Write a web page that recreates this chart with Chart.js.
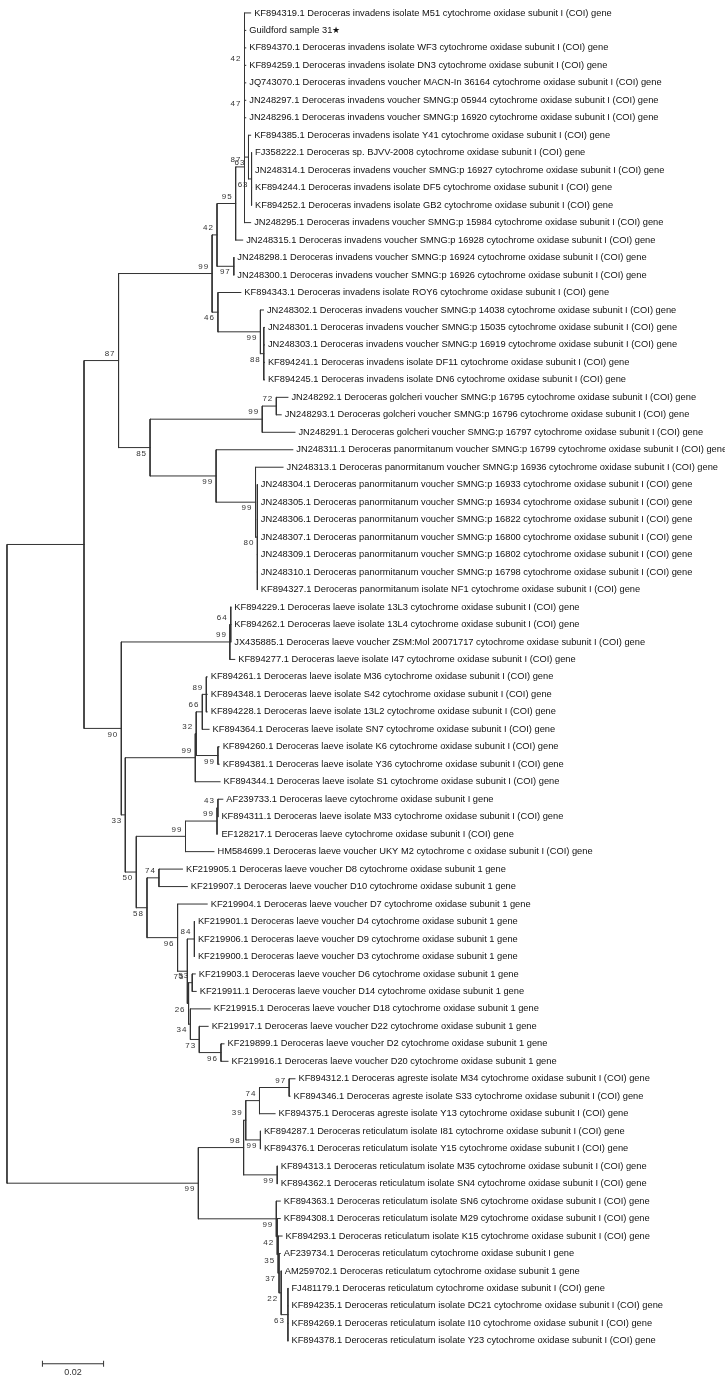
<!DOCTYPE html>
<html>
<head>
<meta charset="utf-8">
<script src="https://cdn.jsdelivr.net/npm/chart.js@4.4.1/dist/chart.umd.min.js"></script>
<style>
    html, body { margin: 0; padding: 0; background: #fff; }
    #wrap { position: relative; width: 725px; height: 1381px; }
</style>
</head>
<body>
<div id="wrap"><canvas id="tree"></canvas></div>
<script>
// ════════════════════════════════════════
// DATA: leaves (top to bottom) and their tip distance from the root
// ════════════════════════════════════════

const leafNames = [
    'KF894319.1 Deroceras invadens isolate M51 cytochrome oxidase subunit I (COI) gene',
    'Guildford sample 31\u2605',
    'KF894370.1 Deroceras invadens isolate WF3 cytochrome oxidase subunit I (COI) gene',
    'KF894259.1 Deroceras invadens isolate DN3 cytochrome oxidase subunit I (COI) gene',
    'JQ743070.1 Deroceras invadens voucher MACN-In 36164 cytochrome oxidase subunit I (COI) gene',
    'JN248297.1 Deroceras invadens voucher SMNG:p 05944 cytochrome oxidase subunit I (COI) gene',
    'JN248296.1 Deroceras invadens voucher SMNG:p 16920 cytochrome oxidase subunit I (COI) gene',
    'KF894385.1 Deroceras invadens isolate Y41 cytochrome oxidase subunit I (COI) gene',
    'FJ358222.1 Deroceras sp. BJVV-2008 cytochrome oxidase subunit I (COI) gene',
    'JN248314.1 Deroceras invadens voucher SMNG:p 16927 cytochrome oxidase subunit I (COI) gene',
    'KF894244.1 Deroceras invadens isolate DF5 cytochrome oxidase subunit I (COI) gene',
    'KF894252.1 Deroceras invadens isolate GB2 cytochrome oxidase subunit I (COI) gene',
    'JN248295.1 Deroceras invadens voucher SMNG:p 15984 cytochrome oxidase subunit I (COI) gene',
    'JN248315.1 Deroceras invadens voucher SMNG:p 16928 cytochrome oxidase subunit I (COI) gene',
    'JN248298.1 Deroceras invadens voucher SMNG:p 16924 cytochrome oxidase subunit I (COI) gene',
    'JN248300.1 Deroceras invadens voucher SMNG:p 16926 cytochrome oxidase subunit I (COI) gene',
    'KF894343.1 Deroceras invadens isolate ROY6 cytochrome oxidase subunit I (COI) gene',
    'JN248302.1 Deroceras invadens voucher SMNG:p 14038 cytochrome oxidase subunit I (COI) gene',
    'JN248301.1 Deroceras invadens voucher SMNG:p 15035 cytochrome oxidase subunit I (COI) gene',
    'JN248303.1 Deroceras invadens voucher SMNG:p 16919 cytochrome oxidase subunit I (COI) gene',
    'KF894241.1 Deroceras invadens isolate DF11 cytochrome oxidase subunit I (COI) gene',
    'KF894245.1 Deroceras invadens isolate DN6 cytochrome oxidase subunit I (COI) gene',
    'JN248292.1 Deroceras golcheri voucher SMNG:p 16795 cytochrome oxidase subunit I (COI) gene',
    'JN248293.1 Deroceras golcheri voucher SMNG:p 16796 cytochrome oxidase subunit I (COI) gene',
    'JN248291.1 Deroceras golcheri voucher SMNG:p 16797 cytochrome oxidase subunit I (COI) gene',
    'JN248311.1 Deroceras panormitanum voucher SMNG:p 16799 cytochrome oxidase subunit I (COI) gene',
    'JN248313.1 Deroceras panormitanum voucher SMNG:p 16936 cytochrome oxidase subunit I (COI) gene',
    'JN248304.1 Deroceras panormitanum voucher SMNG:p 16933 cytochrome oxidase subunit I (COI) gene',
    'JN248305.1 Deroceras panormitanum voucher SMNG:p 16934 cytochrome oxidase subunit I (COI) gene',
    'JN248306.1 Deroceras panormitanum voucher SMNG:p 16822 cytochrome oxidase subunit I (COI) gene',
    'JN248307.1 Deroceras panormitanum voucher SMNG:p 16800 cytochrome oxidase subunit I (COI) gene',
    'JN248309.1 Deroceras panormitanum voucher SMNG:p 16802 cytochrome oxidase subunit I (COI) gene',
    'JN248310.1 Deroceras panormitanum voucher SMNG:p 16798 cytochrome oxidase subunit I (COI) gene',
    'KF894327.1 Deroceras panormitanum isolate NF1 cytochrome oxidase subunit I (COI) gene',
    'KF894229.1 Deroceras laeve isolate 13L3 cytochrome oxidase subunit I (COI) gene',
    'KF894262.1 Deroceras laeve isolate 13L4 cytochrome oxidase subunit I (COI) gene',
    'JX435885.1 Deroceras laeve voucher ZSM:Mol 20071717 cytochrome oxidase subunit I (COI) gene',
    'KF894277.1 Deroceras laeve isolate I47 cytochrome oxidase subunit I (COI) gene',
    'KF894261.1 Deroceras laeve isolate M36 cytochrome oxidase subunit I (COI) gene',
    'KF894348.1 Deroceras laeve isolate S42 cytochrome oxidase subunit I (COI) gene',
    'KF894228.1 Deroceras laeve isolate 13L2 cytochrome oxidase subunit I (COI) gene',
    'KF894364.1 Deroceras laeve isolate SN7 cytochrome oxidase subunit I (COI) gene',
    'KF894260.1 Deroceras laeve isolate K6 cytochrome oxidase subunit I (COI) gene',
    'KF894381.1 Deroceras laeve isolate Y36 cytochrome oxidase subunit I (COI) gene',
    'KF894344.1 Deroceras laeve isolate S1 cytochrome oxidase subunit I (COI) gene',
    'AF239733.1 Deroceras laeve cytochrome oxidase subunit I gene',
    'KF894311.1 Deroceras laeve isolate M33 cytochrome oxidase subunit I (COI) gene',
    'EF128217.1 Deroceras laeve cytochrome oxidase subunit I (COI) gene',
    'HM584699.1 Deroceras laeve voucher UKY M2 cytochrome c oxidase subunit I (COI) gene',
    'KF219905.1 Deroceras laeve voucher D8 cytochrome oxidase subunit 1 gene',
    'KF219907.1 Deroceras laeve voucher D10 cytochrome oxidase subunit 1 gene',
    'KF219904.1 Deroceras laeve voucher D7 cytochrome oxidase subunit 1 gene',
    'KF219901.1 Deroceras laeve voucher D4 cytochrome oxidase subunit 1 gene',
    'KF219906.1 Deroceras laeve voucher D9 cytochrome oxidase subunit 1 gene',
    'KF219900.1 Deroceras laeve voucher D3 cytochrome oxidase subunit 1 gene',
    'KF219903.1 Deroceras laeve voucher D6 cytochrome oxidase subunit 1 gene',
    'KF219911.1 Deroceras laeve voucher D14 cytochrome oxidase subunit 1 gene',
    'KF219915.1 Deroceras laeve voucher D18 cytochrome oxidase subunit 1 gene',
    'KF219917.1 Deroceras laeve voucher D22 cytochrome oxidase subunit 1 gene',
    'KF219899.1 Deroceras laeve voucher D2 cytochrome oxidase subunit 1 gene',
    'KF219916.1 Deroceras laeve voucher D20 cytochrome oxidase subunit 1 gene',
    'KF894312.1 Deroceras agreste isolate M34 cytochrome oxidase subunit I (COI) gene',
    'KF894346.1 Deroceras agreste isolate S33 cytochrome oxidase subunit I (COI) gene',
    'KF894375.1 Deroceras agreste isolate Y13 cytochrome oxidase subunit I (COI) gene',
    'KF894287.1 Deroceras reticulatum isolate I81 cytochrome oxidase subunit I (COI) gene',
    'KF894376.1 Deroceras reticulatum isolate Y15 cytochrome oxidase subunit I (COI) gene',
    'KF894313.1 Deroceras reticulatum isolate M35 cytochrome oxidase subunit I (COI) gene',
    'KF894362.1 Deroceras reticulatum isolate SN4 cytochrome oxidase subunit I (COI) gene',
    'KF894363.1 Deroceras reticulatum isolate SN6 cytochrome oxidase subunit I (COI) gene',
    'KF894308.1 Deroceras reticulatum isolate M29 cytochrome oxidase subunit I (COI) gene',
    'KF894293.1 Deroceras reticulatum isolate K15 cytochrome oxidase subunit I (COI) gene',
    'AF239734.1 Deroceras reticulatum cytochrome oxidase subunit I gene',
    'AM259702.1 Deroceras reticulatum cytochrome oxidase subunit 1 gene',
    'FJ481179.1 Deroceras reticulatum cytochrome oxidase subunit I (COI) gene',
    'KF894235.1 Deroceras reticulatum isolate DC21 cytochrome oxidase subunit I (COI) gene',
    'KF894269.1 Deroceras reticulatum isolate I10 cytochrome oxidase subunit I (COI) gene',
    'KF894378.1 Deroceras reticulatum isolate Y23 cytochrome oxidase subunit I (COI) gene',
];

const leafDepth = [
    0.0797, 0.0781, 0.0781, 0.0781, 0.0781, 0.0781, 0.0781, 0.0797, 0.0800, 0.0800,
    0.0800, 0.0800, 0.0797, 0.0771, 0.0742, 0.0742, 0.0765, 0.0839, 0.0842, 0.0842,
    0.0842, 0.0842, 0.0919, 0.0897, 0.0942, 0.0935, 0.0903, 0.0819, 0.0819, 0.0819,
    0.0819, 0.0819, 0.0819, 0.0819, 0.0732, 0.0732, 0.0732, 0.0745, 0.0655, 0.0655,
    0.0655, 0.0661, 0.0694, 0.0694, 0.0697, 0.0706, 0.0690, 0.0690, 0.0677, 0.0574,
    0.0590, 0.0655, 0.0613, 0.0613, 0.0613, 0.0616, 0.0619, 0.0665, 0.0658, 0.0710,
    0.0723, 0.0942, 0.0926, 0.0877, 0.0829, 0.0829, 0.0884, 0.0884, 0.0894, 0.0894,
    0.0900, 0.0894, 0.0897, 0.0919, 0.0919, 0.0919, 0.0919,
];

// ════════════════════════════════════════
// DATA: internal nodes  [id, children (leaf index or node id), depth, bootstrap]
// ════════════════════════════════════════

const clades = [
    ['root',  ['A', 'R'],              0.0000, null],
    ['A',     ['B87', 'LAEVE'],        0.0252, null],
    ['B87',   ['INV', 'N85'],          0.0365, 87],
    ['INV',   ['N42b', 'N46'],         0.0671, 99],
    ['N42b',  ['N95', 'N97'],          0.0687, 42],
    ['N95',   ['Ntop', 13],            0.0748, 95],
    ['Ntop',  ['N47', 12],             0.0777, 87],
    ['N47',   ['N42', 'N63a'],         0.0777, 47],
    ['N42',   [0, 1, 2, 3, 4, 5, 6],   0.0777, 42],
    ['N63a',  [7, 'N63b'],             0.0790, 63],
    ['N63b',  [8, 9, 10, 11],          0.0800, 63],
    ['N97',   [14, 15],                0.0742, 97],
    ['N46',   [16, 'N99b'],            0.0690, 46],
    ['N99b',  [17, 'N88'],             0.0829, 99],
    ['N88',   [18, 19, 20, 21],        0.0840, 88],
    ['N85',   ['N99G', 'N99P'],        0.0468, 85],
    ['N99G',  ['N72', 24],             0.0835, 99],
    ['N72',   [22, 23],                0.0881, 72],
    ['N99P',  [25, 'N99c'],            0.0684, 99],
    ['N99c',  [26, 'N80'],             0.0813, 99],
    ['N80',   [27, 28, 29, 30, 31, 32, 33], 0.0819, 80],
    ['LAEVE', ['N99L1', 'N33'],        0.0374, 90],
    ['N99L1', ['N64', 37],             0.0729, 99],
    ['N64',   [34, 35, 36],            0.0732, 64],
    ['N33',   ['N99S', 'N50'],         0.0387, 33],
    ['N99S',  ['N32', 44],             0.0616, 99],
    ['N32',   ['N66', 'N99K'],         0.0619, 32],
    ['N66',   ['N89', 41],             0.0639, 66],
    ['N89',   [38, 39, 40],            0.0652, 89],
    ['N99K',  [42, 43],                0.0690, 99],
    ['N50',   ['NM', 'N58'],           0.0423, 50],
    ['NM',    ['N99M', 48],            0.0584, 99],
    ['N99M',  ['N43', 47],             0.0687, 99],
    ['N43',   [45, 46],                0.0690, 43],
    ['N58',   ['N74', 'N96'],          0.0458, 58],
    ['N74',   [49, 50],                0.0497, 74],
    ['N96',   [51, 'N75'],             0.0558, 96],
    ['N75',   ['N84', 'N26'],          0.0590, 75],
    ['N84',   [52, 53, 54],            0.0613, 84],
    ['N26',   ['N53', 'N34'],          0.0594, 26],
    ['N53',   [55, 56],                0.0606, 53],
    ['N34',   [57, 'N73'],             0.0600, 34],
    ['N73',   [58, 'N96b'],            0.0629, 73],
    ['N96b',  [59, 60],                0.0700, 96],
    ['R',     ['N98', 'N99R'],         0.0626, 99],
    ['N98',   ['N39', 'N99d'],         0.0774, 98],
    ['N39',   ['N74b', 'N99c2'],       0.0781, 39],
    ['N74b',  ['N97b', 63],            0.0826, 74],
    ['N97b',  [61, 62],                0.0923, 97],
    ['N99c2', [64, 65],                0.0829, 99],
    ['N99d',  [66, 67],                0.0884, 99],
    ['N99R',  [68, 'N42c'],            0.0881, 99],
    ['N42c',  [69, 'N35'],             0.0884, 42],
    ['N35',   [70, 'N37'],             0.0887, 35],
    ['N37',   [71, 'N22'],             0.0890, 37],
    ['N22',   [72, 'N63c'],            0.0897, 22],
    ['N63c',  [73, 74, 75, 76],        0.0919, 63],
];

const scaleBarLength = 0.02;
const scaleBarLabel = '0.02';

// ════════════════════════════════════════
// LAYOUT (axis windows, scale bar placement)
// ════════════════════════════════════════

const X_MIN = -0.000645, X_MAX = 0.23323;
const Y_MIN = -0.4545, Y_MAX = 78.011;
const SCALE_BAR_X = 0.0116, SCALE_BAR_ROW = 77.31;
const LINE_COLOR = '#333';

// ════════════════════════════════════════
// BUILD: node rows + branch segments
// ════════════════════════════════════════

const cladeById = {};
clades.forEach(c => { cladeById[c[0]] = c; });

const rowCache = {};
function rowOf(k) {
    if (typeof k === 'number') return k;
    if (rowCache[k] !== undefined) return rowCache[k];
    const kids = cladeById[k][1];
    rowCache[k] = (rowOf(kids[0]) + rowOf(kids[kids.length - 1])) / 2;
    return rowCache[k];
}
function depthOf(k) {
    return typeof k === 'number' ? leafDepth[k] : cladeById[k][2];
}

const branchPoints = [];
const supportMarks = [];
clades.forEach(([id, kids, depth]) => {
    // vertical joining first and last child
    branchPoints.push({ x: depth, y: rowOf(kids[0]) }, { x: depth, y: rowOf(kids[kids.length - 1]) }, { x: null, y: null });
    kids.forEach((k, i) => {
        branchPoints.push({ x: depth, y: rowOf(k) }, { x: depthOf(k), y: rowOf(k) }, { x: null, y: null });
        if (typeof k === 'string' && cladeById[k][3] != null) {
            supportMarks.push({ x: cladeById[k][2], y: rowOf(k), text: String(cladeById[k][3]), upper: i === 0 });
        }
    });
});

// ════════════════════════════════════════
// TEXT PLUGIN: leaf names, bootstrap values, scale label
// ════════════════════════════════════════

const treeText = {
    id: 'treeText',
    afterDatasetsDraw(chart) {
        const { ctx, scales: { x, y } } = chart;
        ctx.save();

        ctx.fillStyle = '#111';
        ctx.font = '9.3px "Liberation Sans", Arial, sans-serif';
        ctx.textAlign = 'left';
        ctx.textBaseline = 'middle';
        leafNames.forEach((name, i) => {
            ctx.fillText(name, x.getPixelForValue(leafDepth[i]) + 3.5, y.getPixelForValue(i));
        });

        ctx.fillStyle = '#333';
        ctx.font = '8px "Liberation Sans", Arial, sans-serif';
        ctx.letterSpacing = '1px';
        ctx.textAlign = 'right';
        supportMarks.forEach(m => {
            ctx.fillText(m.text, x.getPixelForValue(m.x) - 3, y.getPixelForValue(m.y) + (m.upper ? -7 : 6));
        });

        ctx.letterSpacing = '0px';
        ctx.font = '9px "Liberation Sans", Arial, sans-serif';
        ctx.textAlign = 'center';
        ctx.fillText(scaleBarLabel,
            x.getPixelForValue(SCALE_BAR_X + scaleBarLength / 2),
            y.getPixelForValue(SCALE_BAR_ROW) + 9);

        ctx.restore();
    }
};

// ════════════════════════════════════════
// CHART
// ════════════════════════════════════════

new Chart(document.getElementById('tree'), {
    type: 'scatter',
    data: {
        datasets: [
            {
                label: 'branches',
                data: branchPoints,
                showLine: true,
                spanGaps: false,
                borderColor: LINE_COLOR,
                borderWidth: 1,
                pointRadius: 0,
                borderCapStyle: 'square',
            },
            {
                label: 'scale',
                data: [
                    { x: SCALE_BAR_X, y: SCALE_BAR_ROW },
                    { x: SCALE_BAR_X + scaleBarLength, y: SCALE_BAR_ROW },
                ],
                showLine: true,
                borderColor: LINE_COLOR,
                borderWidth: 1,
                pointStyle: 'line',
                pointRotation: 90,
                pointRadius: 3,
                pointBorderColor: LINE_COLOR,
                pointBorderWidth: 1,
            },
        ]
    },
    options: {
        responsive: true,
        maintainAspectRatio: false,
        animation: false,
        events: [],
        layout: { padding: 0 },
        plugins: { legend: { display: false }, tooltip: { enabled: false } },
        scales: {
            x: { type: 'linear', display: false, min: X_MIN, max: X_MAX },
            y: { type: 'linear', display: false, min: Y_MIN, max: Y_MAX, reverse: true },
        }
    },
    plugins: [treeText]
});
</script>
</body>
</html>
